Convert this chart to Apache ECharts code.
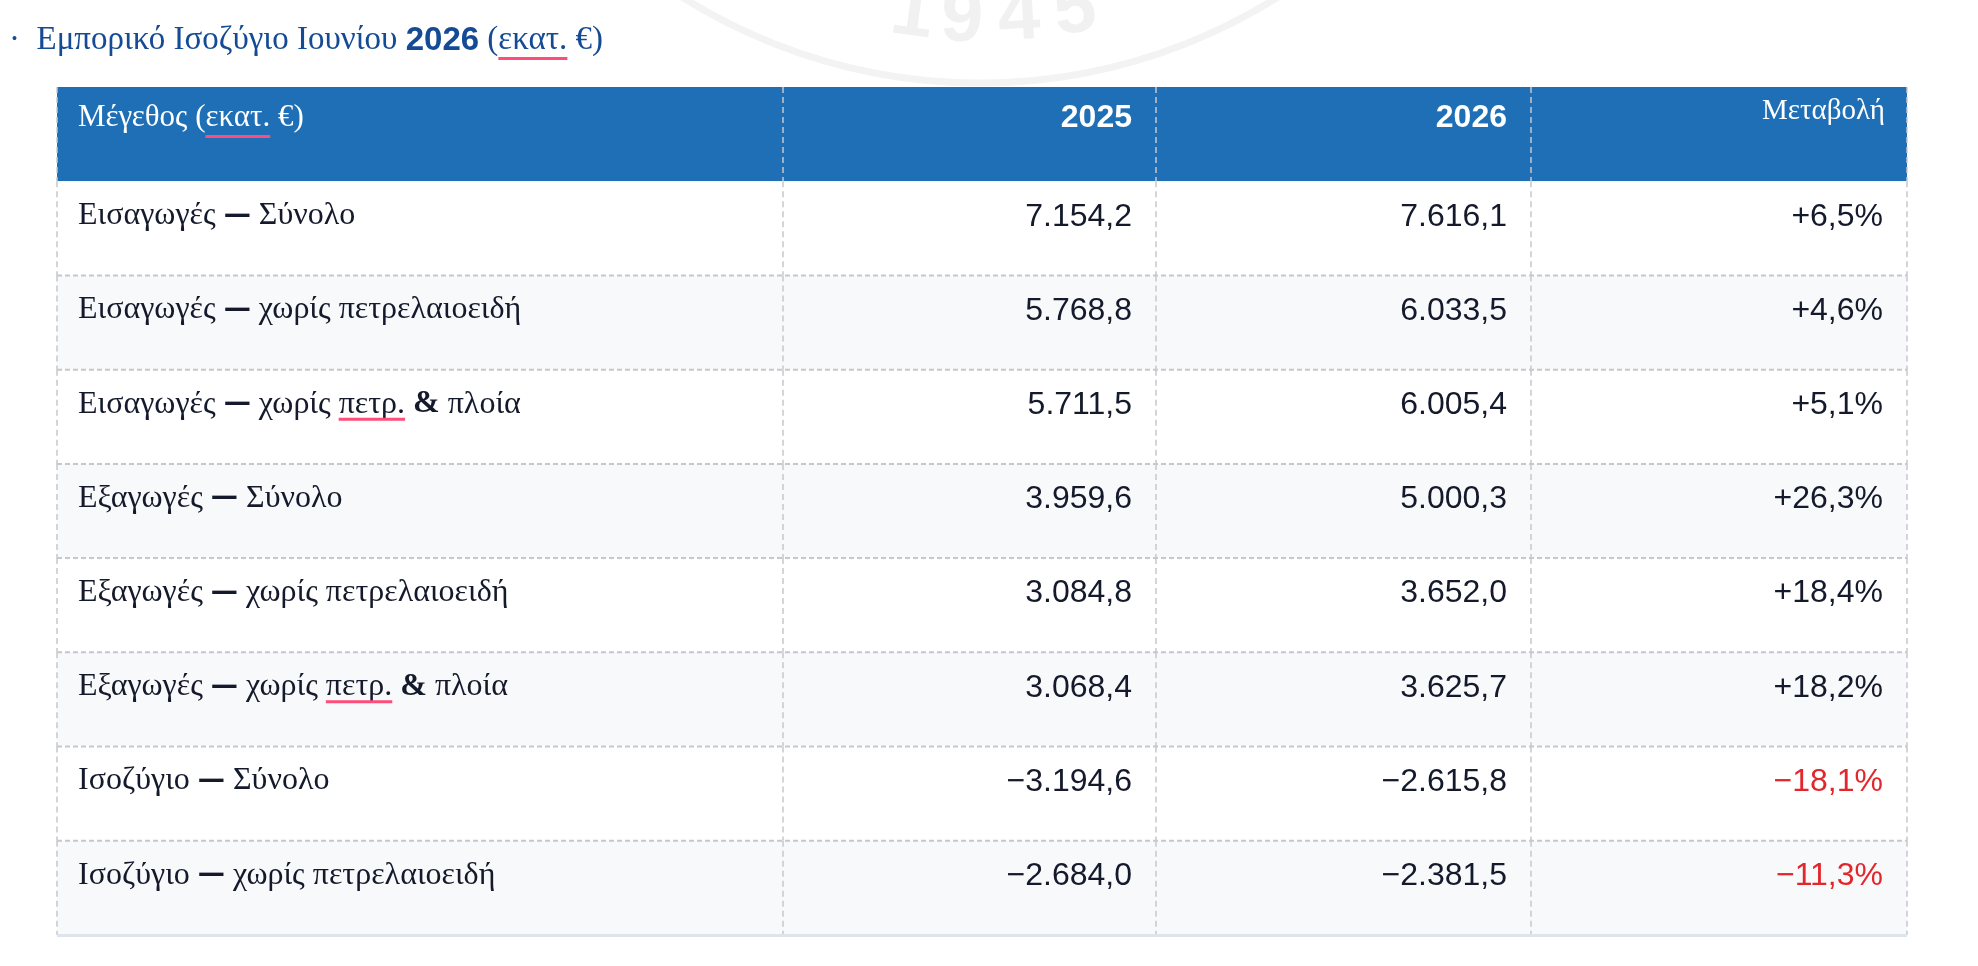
<!DOCTYPE html>
<html>
<head>
<meta charset="utf-8">
<script src="https://cdn.jsdelivr.net/npm/echarts@6/dist/echarts.min.js"></script>
<style>
  html, body { margin: 0; padding: 0; background: #ffffff; }
  #chart { width: 1978px; height: 966px; }
</style>
</head>
<body>
<div id="chart"></div>
<script>
// ---------------- DATA ----------------
const headers = ['Μέγεθος (εκατ. €)', '2025', '2026', 'Μεταβολή'];
const rowLabels = [
  'Εισαγωγές — Σύνολο',
  'Εισαγωγές — χωρίς πετρελαιοειδή',
  'Εισαγωγές — χωρίς πετρ. & πλοία',
  'Εξαγωγές — Σύνολο',
  'Εξαγωγές — χωρίς πετρελαιοειδή',
  'Εξαγωγές — χωρίς πετρ. & πλοία',
  'Ισοζύγιο — Σύνολο',
  'Ισοζύγιο — χωρίς πετρελαιοειδή'
];
const values2025 = [7154.2, 5768.8, 5711.5, 3959.6, 3084.8, 3068.4, -3194.6, -2684.0];
const values2026 = [7616.1, 6033.5, 6005.4, 5000.3, 3652.0, 3625.7, -2615.8, -2381.5];
const changePct = [6.5, 4.6, 5.1, 26.3, 18.4, 18.2, -18.1, -11.3];
const titleMain = 'Εμπορικό Ισοζύγιο Ιουνίου';
const titleYear = '2026';
const titleUnit = 'εκατ.';
const watermarkText = '1945';
const spellMarked = ['εκατ.', 'πετρ.'];

// ---------------- HELPERS ----------------
function fmtNum(v) {
  const sign = v < 0 ? '\u2212' : '';
  const parts = Math.abs(v).toFixed(1).split('.');
  const intPart = parts[0].replace(/\B(?=(\d{3})+(?!\d))/g, '.');
  return sign + intPart + ',' + parts[1];
}
function fmtPct(v) {
  const sign = v < 0 ? '\u2212' : '+';
  return sign + Math.abs(v).toFixed(1).replace('.', ',') + '%';
}
const measureCtx = document.createElement('canvas').getContext('2d');
function textWidth(str, size, family, weight) {
  measureCtx.font = (weight || 'normal') + ' ' + size + 'px ' + family;
  return measureCtx.measureText(str).width;
}

const SERIF = '"Liberation Serif", "DejaVu Serif", serif';
const SANS = '"Liberation Sans", Arial, sans-serif';
const DASHFONT = '"DejaVu Sans", sans-serif';
const HEADER_BG = '#1f6fb6';
const TEXT_DARK = '#141a2b';
const NEG_RED = '#e2262c';
const GRID_LINE = '#c6c8cc';
const SPELL = '#ff4d7a';
const BODY_SERIF_SIZE = 32;
const NUM_SIZE = 32;
const HEAD_SERIF_SIZE = 31;
const SPECIAL = /([—&])/;

// split a label into segments; dash and ampersand get their own heavier style
function segments(text) {
  return text.split(SPECIAL).filter(function (s) { return s.length; }).map(function (s) {
    return { t: s, kind: s === '—' ? 'dash' : (s === '&' ? 'amp' : 'plain') };
  });
}
function richLabel(text) {
  return segments(text).map(function (s) {
    if (s.kind === 'dash') return '{b|' + s.t + '}';
    if (s.kind === 'amp') return '{a|' + s.t + '}';
    return s.t;
  }).join('');
}
function segWidth(text, size) {
  return segments(text).reduce(function (acc, s) {
    if (s.kind === 'dash') return acc + textWidth(s.t, size * 0.85, DASHFONT, 'bold');
    if (s.kind === 'amp') return acc + textWidth(s.t, size, SERIF, 'bold');
    return acc + textWidth(s.t, size, SERIF, 'normal');
  }, 0);
}

const colEdges = [0, 726, 1099, 1474, 1850];
const yData = [headers[0]].concat(rowLabels);

function cellTexts(r) {
  if (r === 0) return headers.slice();
  const i = r - 1;
  return [rowLabels[i], fmtNum(values2025[i]), fmtNum(values2026[i]), fmtPct(changePct[i])];
}

function spellUnderline(text, x, y, size) {
  const out = [];
  spellMarked.forEach(function (w) {
    const idx = text.indexOf(w);
    if (idx >= 0) {
      const x0 = x + segWidth(text.slice(0, idx), size);
      const ww = textWidth(w, size, SERIF);
      out.push({
        type: 'rect',
        shape: { x: x0, y: y, width: ww, height: 3 },
        style: { fill: SPELL }
      });
    }
  });
  return out;
}

function renderRow(params, api) {
  const r = api.value(1);
  const yc = api.coord([0, r])[1];
  const h = api.size([0, 1])[1];
  const top = yc - h / 2;
  const xs = colEdges.map(function (e) { return api.coord([e, r])[0]; });
  const isHeader = r === 0;
  const children = [];
  children.push({
    type: 'rect',
    shape: { x: xs[0], y: top, width: xs[4] - xs[0], height: h },
    style: { fill: isHeader ? HEADER_BG : (r % 2 === 1 ? '#ffffff' : '#f8f9fb') }
  });
  const texts = cellTexts(r);
  const lx = xs[0] + 21;
  const lSize = isHeader ? HEAD_SERIF_SIZE : BODY_SERIF_SIZE;
  const lColor = isHeader ? '#ffffff' : TEXT_DARK;
  children.push({
    type: 'text',
    x: lx, y: top + (isHeader ? 30.5 : 34.5),
    style: {
      text: richLabel(texts[0]), fill: lColor,
      fontSize: lSize, fontFamily: SERIF,
      align: 'left', verticalAlign: 'middle',
      rich: {
        b: { fontSize: lSize * 0.85, fontFamily: DASHFONT, fontWeight: 'bold', fill: lColor, color: lColor },
        a: { fontSize: lSize, fontFamily: SERIF, fontWeight: 'bold', fill: lColor, color: lColor }
      }
    }
  });
  spellUnderline(texts[0], lx, top + 48, lSize).forEach(function (u) { children.push(u); });
  for (let c = 1; c < 4; c++) {
    const tx = xs[c + 1] - 24;
    let style;
    if (isHeader) {
      if (c === 3) {
        style = { text: texts[c], fill: '#ffffff', fontSize: 29, fontFamily: SERIF,
                  align: 'right', verticalAlign: 'middle' };
        children.push({ type: 'text', x: tx + 2, y: top + 24.5, style: style });
      } else {
        style = { text: texts[c], fill: '#ffffff', fontSize: NUM_SIZE, fontWeight: 'bold',
                  fontFamily: SANS, align: 'right', verticalAlign: 'middle' };
        children.push({ type: 'text', x: tx, y: top + 31.5, style: style });
      }
    } else {
      const neg = c === 3 && changePct[r - 1] < 0;
      style = { text: texts[c], fill: neg ? NEG_RED : TEXT_DARK, fontSize: NUM_SIZE,
                fontFamily: SANS, align: 'right', verticalAlign: 'middle' };
      children.push({ type: 'text', x: tx, y: top + 35.5, style: style });
    }
  }
  for (let c = 0; c < 5; c++) {
    children.push({
      type: 'line',
      shape: { x1: xs[c], y1: top, x2: xs[c], y2: top + h },
      style: { stroke: GRID_LINE, lineWidth: 1.5, lineDash: [6, 4] }
    });
  }
  if (r >= 2) {
    children.push({
      type: 'line',
      shape: { x1: xs[0], y1: top, x2: xs[4], y2: top },
      style: { stroke: GRID_LINE, lineWidth: 2, lineDash: [5, 3] }
    });
  }
  if (r === yData.length - 1) {
    children.push({
      type: 'rect',
      shape: { x: xs[0], y: top + h - 1, width: xs[4] - xs[0], height: 3 },
      style: { fill: '#dde4ec' }
    });
  }
  return { type: 'group', children: children };
}

// ---------------- TITLE + WATERMARK ----------------
const TITLE_LEFT = 9;
const TITLE_SIZE = 33;
const TITLE_COLOR = '#154b94';
const titlePrefixW =
  textWidth('·', TITLE_SIZE, SERIF) +
  textWidth('  ' + titleMain + ' ', TITLE_SIZE, SERIF) +
  textWidth(titleYear, 33, SANS, 'bold') +
  textWidth(' (', TITLE_SIZE, SERIF);
const titleUnitW = textWidth(titleUnit, TITLE_SIZE, SERIF);

const wmDigits = watermarkText.split('');
const wmPos = [[912, 14, -0.14], [962, 20, -0.05], [1019, 18, 0.05], [1075, 11, 0.14]];
const watermark = wmDigits.map(function (d, i) {
  return {
    type: 'text', x: wmPos[i][0], y: wmPos[i][1], rotation: wmPos[i][2], z: -5,
    style: { text: d, fill: '#f1f1f1', fontSize: 76, fontWeight: 'bold', fontFamily: SANS,
             align: 'center', verticalAlign: 'middle' }
  };
});

const chart = echarts.init(document.getElementById('chart'), null, { renderer: 'canvas' });
chart.setOption({
  backgroundColor: '#ffffff',
  animation: false,
  title: {
    left: TITLE_LEFT, top: 24, padding: 0,
    text: '{d|·}{s|  ' + titleMain + ' }{n|' + titleYear + '}{s| (' + titleUnit + ' €)}',
    textStyle: {
      fontWeight: 'normal',
      rich: {
        d: { fontSize: TITLE_SIZE, fontFamily: SERIF, fontWeight: 'normal', color: TITLE_COLOR },
        s: { fontSize: TITLE_SIZE, fontFamily: SERIF, fontWeight: 'normal', color: TITLE_COLOR },
        n: { fontSize: 33, fontFamily: SANS, fontWeight: 'bold', color: TITLE_COLOR }
      }
    }
  },
  graphic: watermark.concat([
    {
      type: 'circle', z: -5,
      shape: { cx: 980, cy: -476, r: 559 },
      style: { fill: 'none', stroke: '#f3f3f3', lineWidth: 7 }
    },
    {
      type: 'rect',
      shape: { x: TITLE_LEFT + titlePrefixW, y: 57, width: titleUnitW, height: 3 },
      style: { fill: SPELL }
    }
  ]),
  grid: { left: 57, width: 1850, top: 87, bottom: 31 },
  xAxis: { type: 'value', min: 0, max: 1850, show: false },
  yAxis: { type: 'category', data: yData, inverse: true, show: false },
  series: [{
    type: 'custom',
    clip: false,
    renderItem: renderRow,
    data: yData.map(function (_, i) { return [0, i]; })
  }]
});
</script>
</body>
</html>
